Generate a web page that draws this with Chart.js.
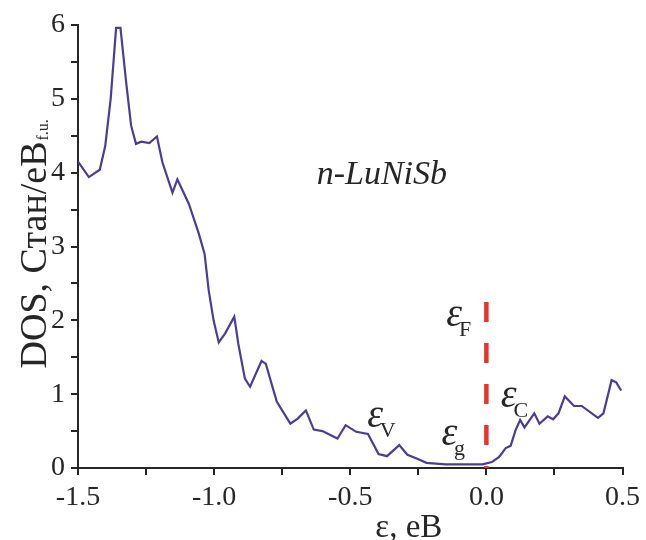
<!DOCTYPE html>
<html>
<head>
<meta charset="utf-8">
<script src="https://cdn.jsdelivr.net/npm/chart.js@4"></script>
<style>
  html, body { margin: 0; padding: 0; background: #fff; }
</style>
</head>
<body>
<canvas id="dosChart" width="646" height="540"></canvas>
<script>
// energy (eB) and density of states
const energy = [-1.50, -1.46, -1.42, -1.40, -1.38, -1.36, -1.344, -1.323, -1.305, -1.287,
  -1.268, -1.238, -1.21, -1.19, -1.153, -1.135, -1.093, -1.056, -1.035, -1.02,
  -1.002, -0.983, -0.96, -0.926, -0.911, -0.887, -0.868, -0.826, -0.81, -0.77,
  -0.72, -0.693, -0.663, -0.634, -0.602, -0.547, -0.517, -0.478, -0.435, -0.396,
  -0.365, -0.32, -0.29, -0.256, -0.22, -0.15, -0.08, -0.014, 0.02, 0.047,
  0.071, 0.089, 0.107, 0.124, 0.14, 0.176, 0.195, 0.225, 0.245, 0.265,
  0.288, 0.322, 0.35, 0.41, 0.43, 0.46, 0.477, 0.495];
const dos = [4.15, 3.94, 4.04, 4.36, 5.0, 5.96, 5.96, 5.22, 4.64, 4.39,
  4.42, 4.40, 4.49, 4.14, 3.73, 3.91, 3.58, 3.17, 2.90, 2.41,
  2.0, 1.70, 1.82, 2.05, 1.68, 1.21, 1.10, 1.45, 1.41, 0.90,
  0.60, 0.67, 0.78, 0.52, 0.50, 0.40, 0.58, 0.49, 0.46, 0.19,
  0.16, 0.31, 0.18, 0.13, 0.07, 0.05, 0.05, 0.05, 0.08, 0.15,
  0.27, 0.30, 0.51, 0.65, 0.55, 0.74, 0.60, 0.70, 0.66, 0.74,
  0.97, 0.84, 0.84, 0.68, 0.74, 1.19, 1.16, 1.05];

// Fermi level marker (dashed red)
const fermiEnergy = [0, 0];
const fermiDos = [2.25, 0];

// level labels: epsilon with subscript
const levelNames = ['F', 'V', 'g', 'C'];
const levelX = [-0.147, -0.438, -0.165, 0.053];
const levelY = [1.92, 0.55, 0.31, 0.82];

const compound = 'n-LuNiSb';

const toPoints = (xs, ys) => xs.map((x, i) => ({ x: x, y: ys[i] }));

const ink = '#262626';
const serif = '"Liberation Serif", "Times New Roman", serif';

// Beschriftungen direkt auf den Canvas
const textPlugin = {
  id: 'textPlugin',
  afterDraw(chart) {
    const c = chart.ctx;
    const xs = chart.scales.x;
    const ys = chart.scales.y;
    c.save();
    c.fillStyle = ink;
    c.textBaseline = 'alphabetic';

    // compound name
    c.font = 'italic 34px ' + serif;
    c.textAlign = 'center';
    c.fillText(compound, xs.getPixelForValue(-0.384), ys.getPixelForValue(3.85));

    // energy levels
    c.textAlign = 'left';
    levelNames.forEach((name, i) => {
      const px = xs.getPixelForValue(levelX[i]);
      const py = ys.getPixelForValue(levelY[i]);
      c.font = 'italic 40px ' + serif;
      c.fillText('ε', px, py);
      const w = c.measureText('ε').width;
      c.font = '22px ' + serif;
      c.fillText(name, px + w * 0.8, py + 10);
    });

    // x axis title
    c.font = '33px ' + serif;
    c.textAlign = 'center';
    c.fillText('ε, eB', xs.getPixelForValue(-0.285), 537);

    // y axis title with subscript
    c.translate(46, ys.getPixelForValue(3.03));
    c.rotate(-Math.PI / 2);
    c.font = '38px ' + serif;
    const main = 'DOS, Стан/eB';
    const sub = 'f.u.';
    const mw = c.measureText(main).width;
    c.font = '16px ' + serif;
    const sw = c.measureText(sub).width;
    const start = -(mw + sw) / 2;
    c.textAlign = 'left';
    c.font = '38px ' + serif;
    c.fillText(main, start, 0);
    c.font = '16px ' + serif;
    c.fillText(sub, start + mw + 1, 2);
    c.restore();
  }
};

const ctx = document.getElementById('dosChart').getContext('2d');
const chart = new Chart(ctx, {
  type: 'line',
  data: {
    datasets: [
      {
        data: toPoints(fermiEnergy, fermiDos),
        borderColor: '#e8342c',
        borderWidth: 4.5,
        borderDash: [20, 21],
        pointRadius: 0,
        fill: false,
        order: 0
      },
      {
        data: toPoints(energy, dos),
        borderColor: '#4a3d99',
        borderWidth: 2.2,
        pointRadius: 0,
        tension: 0,
        fill: false,
        order: 1
      }
    ]
  },
  options: {
    responsive: false,
    animation: false,
    layout: { padding: { top: 25, right: 19, left: 0, bottom: 0 } },
    plugins: {
      legend: { display: false },
      tooltip: { enabled: false }
    },
    scales: {
      x: {
        type: 'linear',
        min: -1.5,
        max: 0.5,
        border: { color: ink, width: 2 },
        grid: { drawOnChartArea: false, drawTicks: true, tickLength: 7, color: ink, lineWidth: 2 },
        ticks: {
          stepSize: 0.25,
          padding: 6,
          color: ink,
          font: { family: serif, size: 28 },
          maxRotation: 0,
          callback: (v) => (Math.abs(v * 2 - Math.round(v * 2)) < 1e-6 ? v.toFixed(1) : '')
        },
        afterFit: (scale) => { scale.height = 72; }
      },
      y: {
        min: 0,
        max: 6,
        border: { color: ink, width: 2 },
        grid: { drawOnChartArea: false, drawTicks: true, tickLength: 7, color: ink, lineWidth: 2 },
        ticks: {
          stepSize: 0.5,
          padding: 6,
          color: ink,
          font: { family: serif, size: 28 },
          callback: (v) => (Number.isInteger(v) ? String(v) : '')
        },
        afterFit: (scale) => { scale.width = 78; }
      }
    }
  },
  plugins: [textPlugin]
});
</script>
</body>
</html>
